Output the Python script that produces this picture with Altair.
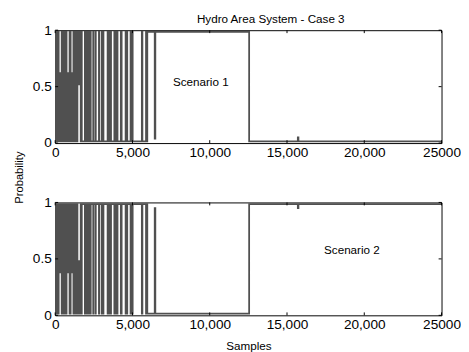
import altair as alt
import pandas as pd

H = 0.985
L = 0.015

# switching instants (samples) and probability values (step-after)
SAMPLES = [0, 45, 90, 135, 180, 225, 265, 305, 345, 385, 420, 465, 510, 555, 600, 645,
           690, 735, 775, 815, 855, 895, 930, 1000, 1040, 1080, 1120, 1150, 1180, 1225,
           1270, 1315, 1360, 1400, 1440, 1480, 1520, 1560, 1600, 1650, 1690, 1720, 1920,
           1980, 2040, 2100, 2160, 2220, 2260, 2300, 2460, 2475, 2610, 2625, 2830, 2850,
           3010, 3065, 3095, 3123, 3392, 3460, 3530, 3613, 3827, 3895, 3965, 4033, 4247,
           4300, 4557, 4605, 4630, 4663, 4877, 4945, 4980, 5013, 5607, 5643, 5877, 5930,
           5960, 6440, 6480, 12550, 15700, 15740, 25000]

SCENARIO_1 = [H, L, H, L, H, L, 0.62, L, 0.62, L, H, L, H, L, H, L,
              H, L, 0.62, L, 0.62, L, H, L, 0.62, L, 0.62, L, H, L,
              H, L, H, L, H, 0.52, H, 0.52, H, L, H, L, H,
              L, H, L, H, L, H, L, H, L, H, L, H, L,
              H, L, H, L, H, L, H, L, H, L, H, L, H,
              L, H, L, H, L, H, L, H, L, H, L, H, L,
              H, 0.04, H, L, 0.05, L, L]

SCENARIO_2 = [L, H, L, H, L, H, 0.38, H, 0.38, H, L, H, L, H, L, H,
              L, H, 0.38, H, 0.38, H, L, H, 0.38, H, 0.38, H, L, H,
              L, H, L, H, L, 0.48, L, 0.48, L, H, L, H, L,
              H, L, H, L, H, L, H, L, H, L, H, L, H,
              L, H, L, H, L, H, L, H, L, H, L, H, L,
              H, L, H, L, H, L, H, L, H, L, H, L, H,
              L, 0.95, L, H, 0.95, H, H]

X_TICKS = [0, 5000, 10000, 15000, 20000, 25000]
Y_TICKS = [0, 0.5, 1]
LABELS = ["Scenario 1", "Scenario 2"]
LABEL_X = [9420, 19200]
LABEL_Y = [0.54, 0.58]

W, Hh = 397, 116
FONT = "Liberation Sans"
LINE = "#505050"

xscale = alt.Scale(domain=[0, 25000], nice=False, zero=False)
yscale = alt.Scale(domain=[0, 1], nice=False)


def panel(values, idx, bottom):
    df = pd.DataFrame({"sample": SAMPLES, "p": values})
    xaxis = alt.Axis(values=X_TICKS, labelExpr="datum.value == 25000 ? '25000' : format(datum.value, ',')",
                     ticks=False, domain=False, grid=False, labelFlush=False, labelOverlap=False,
                     labelFont=FONT, labelFontSize=14, labelColor="black", labelPadding=3,
                     title="Samples" if bottom else None, titleFont=FONT, titleFontSize=12,
                     titleFontWeight="normal", titleColor="black", titlePadding=9)
    yaxis_kw = dict(values=Y_TICKS, format="~g", ticks=False, domain=False, grid=False,
                    labelFont=FONT, labelFontSize=14, labelColor="black", labelPadding=4,
                    labelOverlap=False)
    if bottom:
        yaxis = alt.Axis(title="Probability", titleY=-26, titleFont=FONT, titleFontSize=11.5,
                         titleFontWeight="normal", titleColor="black", titlePadding=8.5, **yaxis_kw)
    else:
        yaxis = alt.Axis(title=None, **yaxis_kw)

    X = lambda: alt.X("sample:Q", scale=xscale, axis=xaxis)
    Y = lambda: alt.Y("p:Q", scale=yscale, axis=yaxis)

    line = alt.Chart(df).mark_line(interpolate="step-after", color=LINE, strokeWidth=1.8).encode(
        x=X(), y=Y())
    tdf = pd.DataFrame({"sample": X_TICKS})
    ydf = pd.DataFrame({"p": Y_TICKS})
    tick_top = alt.Chart(tdf).mark_rule(color="black", strokeWidth=1).encode(
        x=X(), y=alt.value(0), y2=alt.value(3))
    tick_bot = alt.Chart(tdf).mark_rule(color="black", strokeWidth=1).encode(
        x=X(), y=alt.value(Hh - 3), y2=alt.value(Hh))
    tick_l = alt.Chart(ydf).mark_rule(color="black", strokeWidth=1).encode(
        y=Y(), x=alt.value(0), x2=alt.value(3))
    tick_r = alt.Chart(ydf).mark_rule(color="black", strokeWidth=1).encode(
        y=Y(), x=alt.value(W - 3), x2=alt.value(W))
    ldf = pd.DataFrame({"sample": [LABEL_X[idx]], "p": [LABEL_Y[idx]], "t": [LABELS[idx]]})
    text = alt.Chart(ldf).mark_text(font=FONT, fontSize=12, color="black").encode(
        x=X(), y=Y(), text="t:N")
    ch = alt.layer(line, tick_top, tick_bot, tick_l, tick_r, text).properties(width=W, height=Hh)
    if not bottom:
        ch = ch.properties(title=alt.TitleParams("Hydro Area System - Case 3", font=FONT, fontSize=12,
                                                 fontWeight="normal", color="black", anchor="middle",
                                                 frame="group", dx=23, offset=-3))
    return ch


chart = alt.vconcat(panel(SCENARIO_1, 0, False), panel(SCENARIO_2, 1, True),
                    spacing=61, bounds="flush").properties(
    padding={"left": 4.5, "top": 0, "right": 0, "bottom": 0}, background="white"
).configure_view(stroke="black", strokeWidth=1)

chart.save("out.html", embed_options={"renderer": "svg", "actions": False})
